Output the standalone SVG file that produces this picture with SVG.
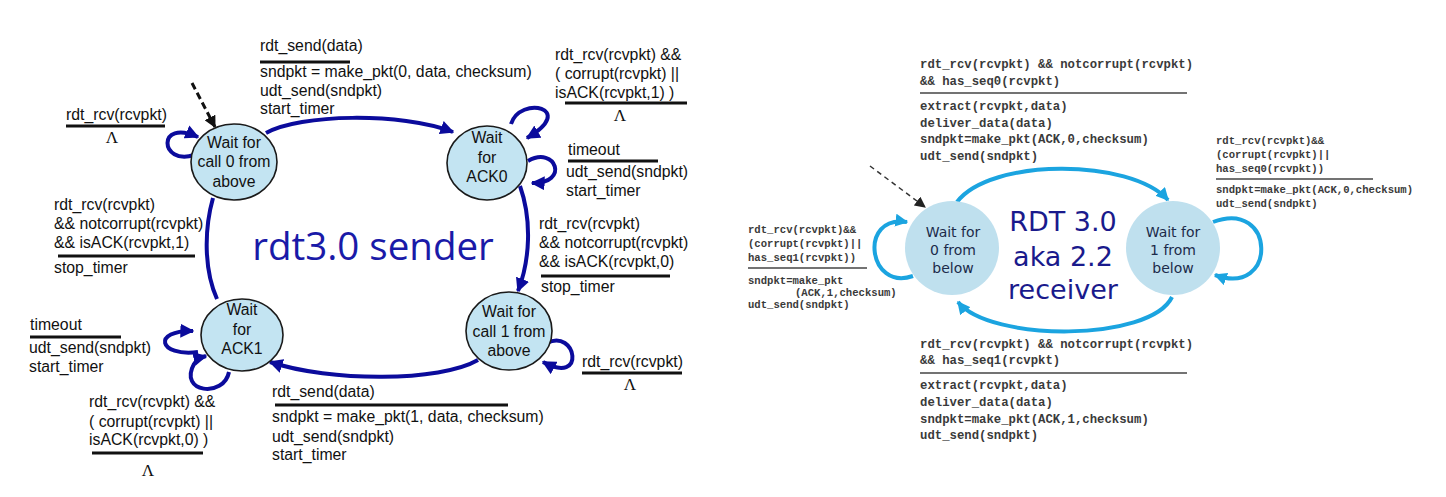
<svg xmlns="http://www.w3.org/2000/svg" width="1446" height="497" viewBox="0 0 1446 497">
<style>
.lbl{font-family:"Liberation Sans",Arial,sans-serif;font-size:15.8px;fill:#111}
.st{font-family:"Liberation Sans",Arial,sans-serif;font-size:15.8px;fill:#111;text-anchor:middle}
.lam{font-family:"Liberation Serif","Times New Roman",serif;font-size:17px;fill:#111;text-anchor:middle}
.bar{stroke:#111;stroke-width:3}
.sn{fill:#c3e4f2;stroke:#1a1a1a;stroke-width:1.6}
.se{fill:none;stroke:#0b0b9c;stroke-width:4}
.re{fill:none;stroke:#1ba4e0;stroke-width:4}
.rn{fill:#bfe0ee}
.rst{font-family:"DejaVu Sans","Noto Sans",sans-serif;font-size:14px;fill:#1c2b4a;text-anchor:middle}
.mono{font-family:"Liberation Mono","Courier New",monospace;font-weight:bold;fill:#3a3a3a}
.m1{font-size:12.3px}
.m2{font-size:10.6px}
.rbar{stroke:#444;stroke-width:1.3}
.big{font-family:"Open Sans","Noto Sans",sans-serif;text-anchor:middle}
.rbig{font-family:"DejaVu Sans","Noto Sans",sans-serif;font-size:27px;fill:#1a1a8c;text-anchor:middle}
</style>
<defs>
<marker id="ab" viewBox="0 0 10 10" refX="9" refY="5" markerWidth="14" markerHeight="14" markerUnits="userSpaceOnUse" orient="auto"><path d="M0,0 L10,5 L0,10 z" fill="#0b0b9c"/></marker>
<marker id="al" viewBox="0 0 10 10" refX="9" refY="5" markerWidth="13" markerHeight="13" markerUnits="userSpaceOnUse" orient="auto"><path d="M0,0 L10,5 L0,10 z" fill="#1ba4e0"/></marker>
<marker id="ak" viewBox="0 0 10 10" refX="9" refY="5" markerWidth="12" markerHeight="12" markerUnits="userSpaceOnUse" orient="auto"><path d="M0,0 L10,5 L0,10 z" fill="#111"/></marker>
<marker id="ag" viewBox="0 0 10 10" refX="9" refY="5" markerWidth="11" markerHeight="11" markerUnits="userSpaceOnUse" orient="auto"><path d="M0,0 L10,5 L0,10 z" fill="#222"/></marker>
</defs>
<rect width="1446" height="497" fill="#ffffff"/>

<g id="connectors">
<path class="se" d="M266,133 C300,114 400,112 453,132" marker-end="url(#ab)"/>
<path class="se" d="M520,186 C532,220 530,260 518,291" marker-end="url(#ab)"/>
<path class="se" d="M478,360 C440,382 330,382 270,362" marker-end="url(#ab)"/>
<path class="se" d="M213,198 C204,230 204,270 217,299"/>
<path class="se" d="M194,155 C160,166 156,118 198,137" marker-end="url(#ab)"/>
<path class="se" d="M511,124 C520,95 578,108 527,138" marker-end="url(#ab)"/>
<path class="se" d="M528,161 C556,145 570,184 532,183" marker-end="url(#ab)"/>
<path class="se" d="M198,352 C158,357 152,330 193,331" marker-end="url(#ab)"/>
<path class="se" d="M229,372 C224,398 178,393 194,364 Q198,358 206,356" marker-end="url(#ab)"/>
<path class="se" d="M547,343 C576,328 587,386 543,362" marker-end="url(#ab)"/>
<path d="M192,83 L215,127" fill="none" stroke="#111" stroke-width="3" stroke-dasharray="7,4" marker-end="url(#ak)"/>
<path class="re" d="M957,202 C990,158 1130,158 1168,200" marker-end="url(#al)"/>
<path class="re" d="M1172,297 C1150,342 990,342 958,302" marker-end="url(#al)"/>
<path class="re" d="M913,276 C868,292 858,214 907,222" marker-end="url(#al)"/>
<path class="re" d="M1213,222 C1276,198 1278,298 1215,275" marker-end="url(#al)"/>
<path d="M870,166 L925,207" fill="none" stroke="#333" stroke-width="1.5" stroke-dasharray="5,4" marker-end="url(#ag)"/>
</g>

<g id="sender-title"><text x="373" y="260" class="big" font-size="38.5" fill="#1a1aa8">rdt3.0 sender</text></g>

<g id="s-call0">
<ellipse class="sn" cx="234" cy="162" rx="43" ry="38"/>
<text class="st" x="234" y="148">Wait for</text>
<text class="st" x="234" y="167">call 0 from</text>
<text class="st" x="234" y="187">above</text>
</g>
<g id="s-ack0">
<ellipse class="sn" cx="487" cy="163" rx="40" ry="37"/>
<text class="st" x="487" y="143">Wait</text>
<text class="st" x="487" y="163">for</text>
<text class="st" x="487" y="182">ACK0</text>
</g>
<g id="s-ack1">
<ellipse class="sn" cx="242" cy="335" rx="41" ry="36"/>
<text class="st" x="242" y="315">Wait</text>
<text class="st" x="242" y="335">for</text>
<text class="st" x="242" y="354">ACK1</text>
</g>
<g id="s-call1">
<ellipse class="sn" cx="509" cy="331" rx="43" ry="39"/>
<text class="st" x="509" y="317">Wait for</text>
<text class="st" x="509" y="337">call 1 from</text>
<text class="st" x="509" y="356">above</text>
</g>

<g id="sender-labels">
<text class="lbl" x="260" y="51">rdt_send(data)</text>
<line class="bar" x1="260" y1="62" x2="350" y2="62"/>
<text class="lbl" x="260" y="77">sndpkt = make_pkt(0, data, checksum)</text>
<text class="lbl" x="260" y="96">udt_send(sndpkt)</text>
<text class="lbl" x="260" y="114">start_timer</text>

<text class="lbl" x="66" y="120">rdt_rcv(rcvpkt)</text>
<line class="bar" x1="66" y1="126" x2="165" y2="126"/>
<text class="lam" x="112" y="143">Λ</text>

<text class="lbl" x="54" y="210">rdt_rcv(rcvpkt)</text>
<text class="lbl" x="54" y="229">&amp;&amp; notcorrupt(rcvpkt)</text>
<text class="lbl" x="54" y="248">&amp;&amp; isACK(rcvpkt,1)</text>
<line class="bar" x1="58" y1="256" x2="195" y2="256"/>
<text class="lbl" x="54" y="273">stop_timer</text>

<text class="lbl" x="555" y="60">rdt_rcv(rcvpkt) &amp;&amp;</text>
<text class="lbl" x="555" y="79">( corrupt(rcvpkt) ||</text>
<text class="lbl" x="555" y="98">isACK(rcvpkt,1) )</text>
<line class="bar" x1="565" y1="103" x2="687" y2="103"/>
<text class="lam" x="620" y="121">Λ</text>

<text class="lbl" x="568" y="155">timeout</text>
<line class="bar" x1="568" y1="161" x2="658" y2="161"/>
<text class="lbl" x="566" y="177">udt_send(sndpkt)</text>
<text class="lbl" x="566" y="196">start_timer</text>

<text class="lbl" x="539" y="229">rdt_rcv(rcvpkt)</text>
<text class="lbl" x="539" y="248">&amp;&amp; notcorrupt(rcvpkt)</text>
<text class="lbl" x="539" y="267">&amp;&amp; isACK(rcvpkt,0)</text>
<line class="bar" x1="541" y1="276" x2="670" y2="276"/>
<text class="lbl" x="541" y="292">stop_timer</text>

<text class="lbl" x="30" y="330">timeout</text>
<line class="bar" x1="30" y1="337" x2="121" y2="337"/>
<text class="lbl" x="29" y="353">udt_send(sndpkt)</text>
<text class="lbl" x="29" y="372">start_timer</text>

<text class="lbl" x="89" y="407">rdt_rcv(rcvpkt) &amp;&amp;</text>
<text class="lbl" x="89" y="427">( corrupt(rcvpkt) ||</text>
<text class="lbl" x="89" y="445">isACK(rcvpkt,0) )</text>
<line class="bar" x1="92" y1="453" x2="203" y2="453"/>
<text class="lam" x="148" y="476">Λ</text>

<text class="lbl" x="272" y="397">rdt_send(data)</text>
<line class="bar" x1="275" y1="405" x2="508" y2="405"/>
<text class="lbl" x="272" y="422">sndpkt = make_pkt(1, data, checksum)</text>
<text class="lbl" x="272" y="442">udt_send(sndpkt)</text>
<text class="lbl" x="272" y="460">start_timer</text>

<text class="lbl" x="582" y="367">rdt_rcv(rcvpkt)</text>
<line class="bar" x1="582" y1="373" x2="682" y2="373"/>
<text class="lam" x="630" y="390">Λ</text>
</g>

<g id="receiver-title">
<text class="rbig" x="1063" y="231">RDT 3.0</text>
<text class="rbig" x="1063" y="266">aka 2.2</text>
<text class="rbig" x="1063" y="299">receiver</text>
</g>

<g id="r-wait0">
<circle class="rn" cx="952" cy="248" r="47"/>
<text class="rst" x="953" y="237">Wait for</text>
<text class="rst" x="953" y="255">0 from</text>
<text class="rst" x="953" y="273">below</text>
</g>
<g id="r-wait1">
<circle class="rn" cx="1173" cy="248" r="47"/>
<text class="rst" x="1173" y="237">Wait for</text>
<text class="rst" x="1173" y="255">1 from</text>
<text class="rst" x="1173" y="273">below</text>
</g>

<g id="receiver-labels">
<text class="mono m1" x="920" y="68">rdt_rcv(rcvpkt) &amp;&amp; notcorrupt(rcvpkt)</text>
<text class="mono m1" x="920" y="85">&amp;&amp; has_seq0(rcvpkt)</text>
<line class="rbar" x1="920" y1="93" x2="1187" y2="93"/>
<text class="mono m1" x="920" y="110">extract(rcvpkt,data)</text>
<text class="mono m1" x="920" y="127">deliver_data(data)</text>
<text class="mono m1" x="920" y="143">sndpkt=make_pkt(ACK,0,checksum)</text>
<text class="mono m1" x="920" y="160">udt_send(sndpkt)</text>

<text class="mono m2" x="1216" y="144">rdt_rcv(rcvpkt)&amp;&amp;</text>
<text class="mono m2" x="1216" y="158">(corrupt(rcvpkt)||</text>
<text class="mono m2" x="1216" y="172">has_seq0(rcvpkt))</text>
<line class="rbar" x1="1216" y1="179" x2="1373" y2="179"/>
<text class="mono m2" x="1216" y="193">sndpkt=make_pkt(ACK,0,checksum)</text>
<text class="mono m2" x="1216" y="207">udt_send(sndpkt)</text>

<text class="mono m2" x="748" y="233">rdt_rcv(rcvpkt)&amp;&amp;</text>
<text class="mono m2" x="748" y="247">(corrupt(rcvpkt)||</text>
<text class="mono m2" x="748" y="261">has_seq1(rcvpkt))</text>
<line class="rbar" x1="748" y1="268" x2="867" y2="268"/>
<text class="mono m2" x="748" y="284">sndpkt=make_pkt</text>
<text class="mono m2" x="795" y="296">(ACK,1,checksum)</text>
<text class="mono m2" x="748" y="308">udt_send(sndpkt)</text>

<text class="mono m1" x="920" y="348">rdt_rcv(rcvpkt) &amp;&amp; notcorrupt(rcvpkt)</text>
<text class="mono m1" x="920" y="364">&amp;&amp; has_seq1(rcvpkt)</text>
<line class="rbar" x1="920" y1="373" x2="1187" y2="373"/>
<text class="mono m1" x="920" y="389">extract(rcvpkt,data)</text>
<text class="mono m1" x="920" y="406">deliver_data(data)</text>
<text class="mono m1" x="920" y="423">sndpkt=make_pkt(ACK,1,checksum)</text>
<text class="mono m1" x="920" y="439">udt_send(sndpkt)</text>
</g>
</svg>
